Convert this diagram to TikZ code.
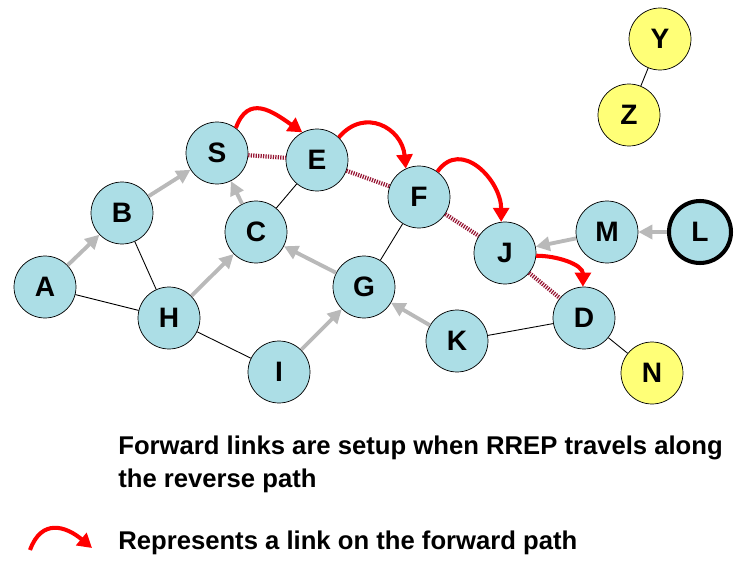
\documentclass[tikz,border=0pt]{standalone}
\usepackage{fontspec}
\setmainfont{Liberation Sans}
\usetikzlibrary{arrows.meta, positioning}
\definecolor{nodecyan}{RGB}{172,222,230}
\definecolor{nodeyellow}{RGB}{255,255,119}
\definecolor{revred}{RGB}{150,20,50}
\definecolor{linkgray}{RGB}{185,185,185}

\begin{document}
\begin{tikzpicture}[x=0.02cm, y=-0.02cm,
  hop/.style={circle, draw, fill=nodecyan, minimum size=1.24cm, inner sep=0pt, font=\fontsize{16}{16}\selectfont\bfseries},
  far/.style={hop, fill=nodeyellow},
  nbr/.style={draw=linkgray, line width=2.2pt, -{Triangle[length=8pt, width=8pt]}},
  plain/.style={draw, line width=0.5pt},
  rev/.style={draw=revred, line width=2.4pt, dash pattern=on 0.7pt off 0.7pt},
  fwd/.style={draw=red, line width=2.3pt, -{Triangle[length=8pt, width=9pt]}},
  msg/.style={anchor=west, font=\fontsize{14.6}{18.7}\selectfont\bfseries, align=left, inner sep=0pt}
]
  \useasboundingbox (0,0) rectangle (741,565);

  % nodes
  \node[hop] (A) at (45,287) {A};
  \node[hop] (B) at (122,213) {B};
  \node[hop] (S) at (217,153) {S};
  \node[hop] (E) at (317,160) {E};
  \node[hop] (C) at (256,232) {C};
  \node[hop] (H) at (169,318) {H};
  \node[hop] (G) at (364,287) {G};
  \node[hop] (I) at (279,372) {I};
  \node[hop] (F) at (419,197) {F};
  \node[hop] (J) at (505,253) {J};
  \node[hop] (M) at (607,232) {M};
  \node[hop, line width=2.3pt] (L) at (700,232) {L};
  \node[hop] (D) at (584,318) {D};
  \node[hop] (K) at (457,341) {K};
  \node[far] (N) at (652,373) {N};
  \node[far] (Y) at (660,39) {Y};
  \node[far] (Z) at (629,115) {Z};

  % plain links
  \draw[plain] (B) -- (H);
  \draw[plain] (A) -- (H);
  \draw[plain] (H) -- (I);
  \draw[plain] (C) -- (E);
  \draw[plain] (G) -- (F);
  \draw[plain] (K) -- (D);
  \draw[plain] (D) -- (N);
  \draw[plain] (Y) -- (Z);

  % reverse path
  \draw[nbr] (A) -- (B);
  \draw[nbr] (B) -- (S);
  \draw[nbr] (C) -- (S);
  \draw[nbr] (H) -- (C);
  \draw[nbr] (G) -- (C);
  \draw[nbr] (I) -- (G);
  \draw[nbr] (K) -- (G);
  \draw[nbr] (M) -- (J);
  \draw[nbr] (L) -- (M);

  \draw[rev] (S) -- (E);
  \draw[rev] (E) -- (F);
  \draw[rev] (F) -- (J);
  \draw[rev] (J) -- (D);

  % forward path
  \draw[fwd] (S.53) to[out=70, in=145, looseness=1.4] (E.118);
  \draw[fwd] (E.46) to[out=50, in=95, looseness=1.4] (F.115);
  \draw[fwd] (F.54) to[out=55, in=90, looseness=1.3] (J.97);
  \draw[fwd] (J.-5) to[out=0, in=90] (D.92);

  % text
  \node[msg, anchor=north west] (note) at (118,436) {Forward links are setup when RREP travels along\\the reverse path};
  \coordinate (legS) at (30,550);
  \coordinate (legE) at (92,548);
  \draw[fwd] (legS) to[out=70, in=140, looseness=1.4] (legE);
  \node[msg] (legend) at (118,543) {Represents a link on the forward path};
\end{tikzpicture}
\end{document}
